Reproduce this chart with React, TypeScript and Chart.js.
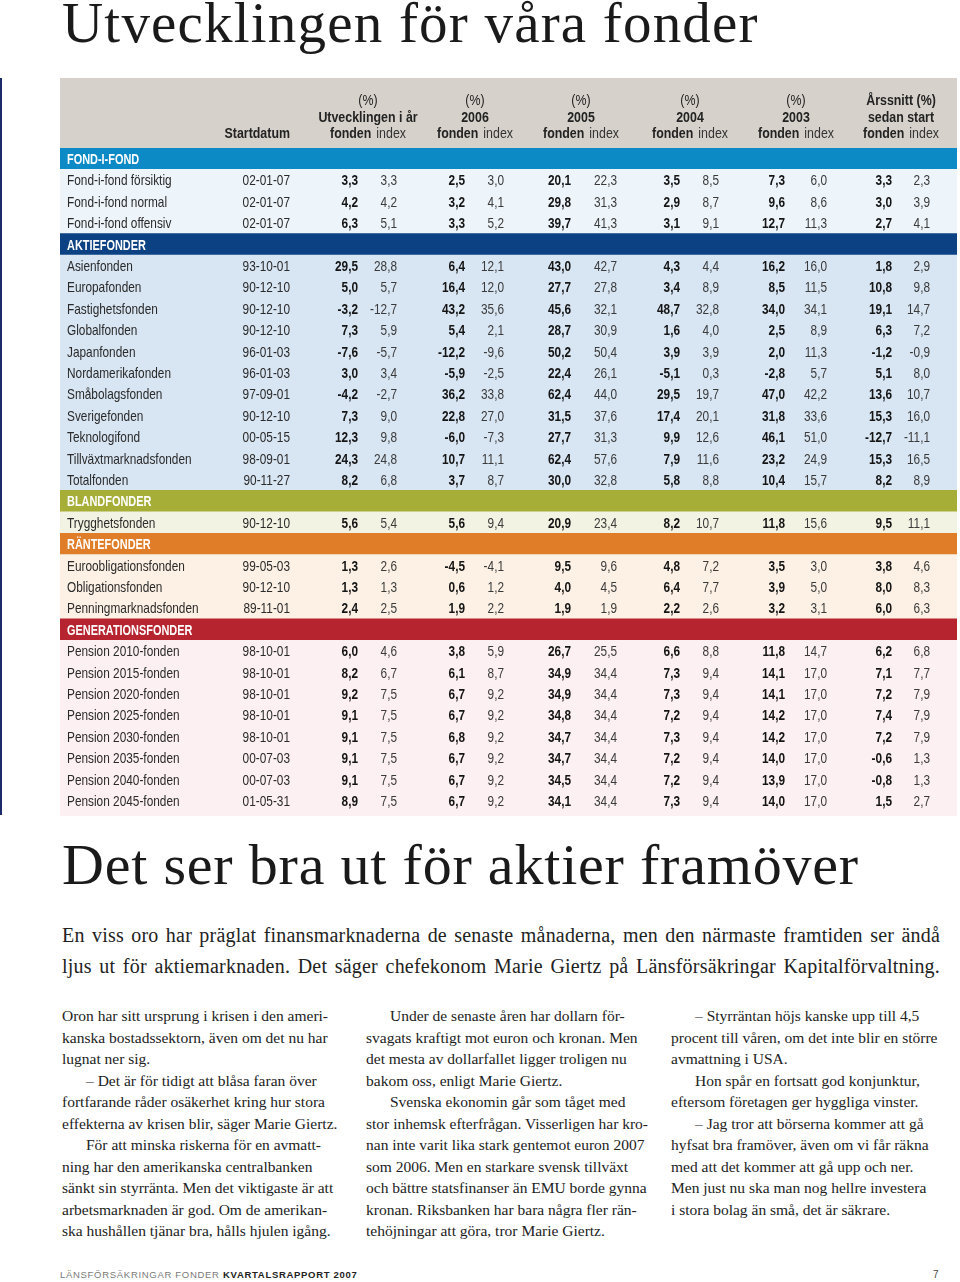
import React, { useEffect, useRef } from 'react';
import { Chart, registerables } from 'chart.js';

Chart.register(...registerables);

// ---------- DATA ----------
const sectionNames = ['FOND-I-FOND', 'AKTIEFONDER', 'BLANDFONDER', 'RÄNTEFONDER', 'GENERATIONSFONDER'];

const fundNames = [
  'Fond-i-fond försiktig', 'Fond-i-fond normal', 'Fond-i-fond offensiv',
  'Asienfonden', 'Europafonden', 'Fastighetsfonden', 'Globalfonden', 'Japanfonden',
  'Nordamerikafonden', 'Småbolagsfonden', 'Sverigefonden', 'Teknologifond',
  'Tillväxtmarknadsfonden', 'Totalfonden',
  'Trygghetsfonden',
  'Euroobligationsfonden', 'Obligationsfonden', 'Penningmarknadsfonden',
  'Pension 2010-fonden', 'Pension 2015-fonden', 'Pension 2020-fonden', 'Pension 2025-fonden',
  'Pension 2030-fonden', 'Pension 2035-fonden', 'Pension 2040-fonden', 'Pension 2045-fonden',
];

const fundSection = [0, 0, 0, 1, 1, 1, 1, 1, 1, 1, 1, 1, 1, 1, 2, 3, 3, 3, 4, 4, 4, 4, 4, 4, 4, 4];

const startDates = [
  '02-01-07', '02-01-07', '02-01-07',
  '93-10-01', '90-12-10', '90-12-10', '90-12-10', '96-01-03', '96-01-03', '97-09-01',
  '90-12-10', '00-05-15', '98-09-01', '90-11-27',
  '90-12-10',
  '99-05-03', '90-12-10', '89-11-01',
  '98-10-01', '98-10-01', '98-10-01', '98-10-01', '98-10-01', '00-07-03', '00-07-03', '01-05-31',
];

const ytdFund = [3.3, 4.2, 6.3, 29.5, 5.0, -3.2, 7.3, -7.6, 3.0, -4.2, 7.3, 12.3, 24.3, 8.2, 5.6, 1.3, 1.3, 2.4, 6.0, 8.2, 9.2, 9.1, 9.1, 9.1, 9.1, 8.9];
const ytdIndex = [3.3, 4.2, 5.1, 28.8, 5.7, -12.7, 5.9, -5.7, 3.4, -2.7, 9.0, 9.8, 24.8, 6.8, 5.4, 2.6, 1.3, 2.5, 4.6, 6.7, 7.5, 7.5, 7.5, 7.5, 7.5, 7.5];
const fund2006 = [2.5, 3.2, 3.3, 6.4, 16.4, 43.2, 5.4, -12.2, -5.9, 36.2, 22.8, -6.0, 10.7, 3.7, 5.6, -4.5, 0.6, 1.9, 3.8, 6.1, 6.7, 6.7, 6.8, 6.7, 6.7, 6.7];
const index2006 = [3.0, 4.1, 5.2, 12.1, 12.0, 35.6, 2.1, -9.6, -2.5, 33.8, 27.0, -7.3, 11.1, 8.7, 9.4, -4.1, 1.2, 2.2, 5.9, 8.7, 9.2, 9.2, 9.2, 9.2, 9.2, 9.2];
const fund2005 = [20.1, 29.8, 39.7, 43.0, 27.7, 45.6, 28.7, 50.2, 22.4, 62.4, 31.5, 27.7, 62.4, 30.0, 20.9, 9.5, 4.0, 1.9, 26.7, 34.9, 34.9, 34.8, 34.7, 34.7, 34.5, 34.1];
const index2005 = [22.3, 31.3, 41.3, 42.7, 27.8, 32.1, 30.9, 50.4, 26.1, 44.0, 37.6, 31.3, 57.6, 32.8, 23.4, 9.6, 4.5, 1.9, 25.5, 34.4, 34.4, 34.4, 34.4, 34.4, 34.4, 34.4];
const fund2004 = [3.5, 2.9, 3.1, 4.3, 3.4, 48.7, 1.6, 3.9, -5.1, 29.5, 17.4, 9.9, 7.9, 5.8, 8.2, 4.8, 6.4, 2.2, 6.6, 7.3, 7.3, 7.2, 7.3, 7.2, 7.2, 7.3];
const index2004 = [8.5, 8.7, 9.1, 4.4, 8.9, 32.8, 4.0, 3.9, 0.3, 19.7, 20.1, 12.6, 11.6, 8.8, 10.7, 7.2, 7.7, 2.6, 8.8, 9.4, 9.4, 9.4, 9.4, 9.4, 9.4, 9.4];
const fund2003 = [7.3, 9.6, 12.7, 16.2, 8.5, 34.0, 2.5, 2.0, -2.8, 47.0, 31.8, 46.1, 23.2, 10.4, 11.8, 3.5, 3.9, 3.2, 11.8, 14.1, 14.1, 14.2, 14.2, 14.0, 13.9, 14.0];
const index2003 = [6.0, 8.6, 11.3, 16.0, 11.5, 34.1, 8.9, 11.3, 5.7, 42.2, 33.6, 51.0, 24.9, 15.7, 15.6, 3.0, 5.0, 3.1, 14.7, 17.0, 17.0, 17.0, 17.0, 17.0, 17.0, 17.0];
const avgFund = [3.3, 3.0, 2.7, 1.8, 10.8, 19.1, 6.3, -1.2, 5.1, 13.6, 15.3, -12.7, 15.3, 8.2, 9.5, 3.8, 8.0, 6.0, 6.2, 7.1, 7.2, 7.4, 7.2, -0.6, -0.8, 1.5];
const avgIndex = [2.3, 3.9, 4.1, 2.9, 9.8, 14.7, 7.2, -0.9, 8.0, 10.7, 16.0, -11.1, 16.5, 8.9, 11.1, 4.6, 8.3, 6.3, 6.8, 7.7, 7.9, 7.9, 7.9, 1.3, 1.3, 2.7];

const headerLine1 = ['(%)', '(%)', '(%)', '(%)', '(%)', 'Årssnitt (%)'];
const headerLine2 = ['Utvecklingen i år', '2006', '2005', '2004', '2003', 'sedan start'];
const headerFund = 'fonden';
const headerIndex = 'index';
const headerStart = 'Startdatum';

const fundSeries = [ytdFund, fund2006, fund2005, fund2004, fund2003, avgFund];
const indexSeries = [ytdIndex, index2006, index2005, index2004, index2003, avgIndex];

// ---------- STYLE / LAYOUT ----------
const TABLE_W = 897;
const TABLE_H = 738;
const HEADER_H = 70;
const BOTTOM_PAD = 4.5;
const HEADER_BG = '#d6d2cb';
const sectionBandColors = ['#0b8ac6', '#0c4283', '#a7ae38', '#e07d28', '#b6252f'];
const sectionRowColors = ['#edf4fa', '#d8e5f2', '#f3f3e3', '#fdf1e5', '#fcf0f3'];

const NAME_X = 7;
const DATE_R = 230;
const fundRight = [298, 405, 511, 620, 725, 832];
const indexRight = [337, 444, 557, 659, 767, 870];
const headerCenter = [308, 415, 521, 630, 736, 841];
const SX = 0.8;
const FONT = '"Liberation Sans", Arial, sans-serif';

type Row = { kind: 'section' | 'fund'; section: number; fund: number; label: string };
const rows: Row[] = [];
sectionNames.forEach((s, si) => {
  rows.push({ kind: 'section', section: si, fund: -1, label: s });
  fundNames.forEach((f, fi) => {
    if (fundSection[fi] === si) rows.push({ kind: 'fund', section: si, fund: fi, label: f });
  });
});

const fmt = (v: number) => v.toFixed(1).replace('.', ',');

function txt(ctx: CanvasRenderingContext2D, s: string, x: number, y: number, align: CanvasTextAlign, font: string, color: string, sx = SX) {
  ctx.save();
  ctx.font = font;
  ctx.fillStyle = color;
  ctx.textAlign = align;
  ctx.textBaseline = 'alphabetic';
  ctx.translate(x, y);
  ctx.scale(sx, 1);
  ctx.fillText(s, 0, 0);
  ctx.restore();
}

const tablePlugin = {
  id: 'fundTable',
  beforeDatasetsDraw(chart: any) {
    const { ctx, chartArea, scales } = chart;
    const x0 = scales.x.getPixelForValue(0);
    const x1 = scales.x.getPixelForValue(TABLE_W);
    ctx.save();
    ctx.fillStyle = HEADER_BG;
    ctx.fillRect(x0, 0, x1 - x0, chartArea.top);
    ctx.fillStyle = sectionRowColors[rows[rows.length - 1].section];
    ctx.fillRect(x0, chartArea.bottom - 1, x1 - x0, chart.height - chartArea.bottom + 1);
    ctx.restore();
  },
  afterDatasetsDraw(chart: any) {
    const { ctx, chartArea, scales } = chart;
    const xs = scales.x;
    const ys = scales.y;
    const top = chartArea.top;
    const hb1 = top - 43;
    const hb2 = top - 26.5;
    const hb3 = top - 10;
    const hBold = `bold 15.5px ${FONT}`;
    const hReg = `15.5px ${FONT}`;
    const hColor = '#232323';
    txt(ctx, headerStart, xs.getPixelForValue(DATE_R), hb3, 'right', hBold, hColor);
    for (let c = 0; c < 6; c++) {
      const cx = xs.getPixelForValue(headerCenter[c]);
      txt(ctx, headerLine1[c], cx, hb1, 'center', c === 5 ? hBold : hReg, hColor);
      txt(ctx, headerLine2[c], cx, hb2, 'center', hBold, hColor);
      ctx.save();
      ctx.font = hBold;
      const wF = ctx.measureText(headerFund).width * SX;
      ctx.font = hReg;
      const wI = ctx.measureText(headerIndex).width * SX;
      ctx.restore();
      const gap = 5;
      const start = cx - (wF + gap + wI) / 2;
      txt(ctx, headerFund, start, hb3, 'left', hBold, hColor);
      txt(ctx, headerIndex, start + wF + gap, hb3, 'left', hReg, '#333');
    }
    const rBold = `bold 14.8px ${FONT}`;
    const rReg = `14.8px ${FONT}`;
    rows.forEach((r, i) => {
      const yc = ys.getPixelForValue(i);
      const yb = yc + 5.2;
      if (r.kind === 'section') {
        txt(ctx, r.label, xs.getPixelForValue(NAME_X), yb, 'left', `bold 14px ${FONT}`, '#ffffff', 0.78);
        return;
      }
      const f = r.fund;
      txt(ctx, r.label, xs.getPixelForValue(NAME_X), yb, 'left', rReg, '#2a2a2a');
      txt(ctx, startDates[f], xs.getPixelForValue(DATE_R), yb, 'right', rReg, '#2a2a2a');
      for (let c = 0; c < 6; c++) {
        txt(ctx, fmt(fundSeries[c][f]), xs.getPixelForValue(fundRight[c]), yb, 'right', rBold, '#151515');
        txt(ctx, fmt(indexSeries[c][f]), xs.getPixelForValue(indexRight[c]), yb, 'right', rReg, '#3a3a3a');
      }
    });
  },
};

function FundTable() {
  const ref = useRef<HTMLCanvasElement | null>(null);
  useEffect(() => {
    if (!ref.current) return;
    const chart = new Chart(ref.current, {
      type: 'bar',
      data: {
        labels: rows.map((r) => r.label),
        datasets: [
          {
            data: rows.map(() => [0, TABLE_W]) as any,
            backgroundColor: rows.map((r) => (r.kind === 'section' ? sectionBandColors[r.section] : sectionRowColors[r.section])),
            borderWidth: 0,
            barPercentage: 1,
            categoryPercentage: 1,
          },
        ],
      },
      options: {
        indexAxis: 'y',
        responsive: false,
        maintainAspectRatio: false,
        animation: false,
        events: [],
        layout: { padding: { top: HEADER_H, bottom: BOTTOM_PAD, left: 0, right: 0 } },
        plugins: { legend: { display: false }, tooltip: { enabled: false } },
        scales: {
          x: { type: 'linear', min: 0, max: TABLE_W, display: false },
          y: { type: 'category', display: false, offset: true },
        },
      },
      plugins: [tablePlugin as any],
    });
    return () => chart.destroy();
  }, []);
  return (
    <canvas
      ref={ref}
      width={TABLE_W}
      height={TABLE_H}
      style={{ position: 'absolute', left: 60, top: 78, width: TABLE_W, height: TABLE_H }}
    />
  );
}

const col1 = [
  { t: 'Oron har sitt ursprung i krisen i den ameri-', i: false },
  { t: 'kanska bostadssektorn, även om det nu har', i: false },
  { t: 'lugnat ner sig.', i: false },
  { t: '– Det är för tidigt att blåsa faran över', i: true },
  { t: 'fortfarande råder osäkerhet kring hur stora', i: false },
  { t: 'effekterna av krisen blir, säger Marie Giertz.', i: false },
  { t: 'För att minska riskerna för en avmatt-', i: true },
  { t: 'ning har den amerikanska centralbanken', i: false },
  { t: 'sänkt sin styrränta. Men det viktigaste är att', i: false },
  { t: 'arbetsmarknaden är god. Om de amerikan-', i: false },
  { t: 'ska hushållen tjänar bra, hålls hjulen igång.', i: false },
];
const col2 = [
  { t: 'Under de senaste åren har dollarn för-', i: true },
  { t: 'svagats kraftigt mot euron och kronan. Men', i: false },
  { t: 'det mesta av dollarfallet ligger troligen nu', i: false },
  { t: 'bakom oss, enligt Marie Giertz.', i: false },
  { t: 'Svenska ekonomin går som tåget med', i: true },
  { t: 'stor inhemsk efterfrågan. Visserligen har kro-', i: false },
  { t: 'nan inte varit lika stark gentemot euron 2007', i: false },
  { t: 'som 2006. Men en starkare svensk tillväxt', i: false },
  { t: 'och bättre statsfinanser än EMU borde gynna', i: false },
  { t: 'kronan. Riksbanken har bara några fler rän-', i: false },
  { t: 'tehöjningar att göra, tror Marie Giertz.', i: false },
];
const col3 = [
  { t: '– Styrräntan höjs kanske upp till 4,5', i: true },
  { t: 'procent till våren, om det inte blir en större', i: false },
  { t: 'avmattning i USA.', i: false },
  { t: 'Hon spår en fortsatt god konjunktur,', i: true },
  { t: 'eftersom företagen ger hyggliga vinster.', i: false },
  { t: '– Jag tror att börserna kommer att gå', i: true },
  { t: 'hyfsat bra framöver, även om vi får räkna', i: false },
  { t: 'med att det kommer att gå upp och ner.', i: false },
  { t: 'Men just nu ska man nog hellre investera', i: false },
  { t: 'i stora bolag än små, det är säkrare.', i: false },
];

const introLines = [
  'En viss oro har präglat finansmarknaderna de senaste månaderna, men den närmaste framtiden ser ändå',
  'ljus ut för aktiemarknaden. Det säger chefekonom Marie Giertz på Länsförsäkringar Kapitalförvaltning.',
];

const SERIF = '"Liberation Serif", "Times New Roman", serif';

function Column({ lines, left }: { lines: { t: string; i: boolean }[]; left: number }) {
  return (
    <div style={{ position: 'absolute', left, top: 1005, width: 290, fontFamily: SERIF, fontSize: 15.5, lineHeight: '21.5px', color: '#222' }}>
      {lines.map((l, k) => (
        <div key={k} style={{ paddingLeft: l.i ? 24 : 0, whiteSpace: 'nowrap' }}>{l.t}</div>
      ))}
    </div>
  );
}

export default function App() {
  return (
    <div style={{ position: 'absolute', left: 0, top: 0, width: 960, height: 1282, background: '#fff', overflow: 'hidden' }}>
      <div style={{ position: 'absolute', left: 62, top: -6, fontFamily: SERIF, fontSize: 57, lineHeight: '57px', letterSpacing: 1.2, color: '#1a1a1a', whiteSpace: 'nowrap' }}>
        Utvecklingen för våra fonder
      </div>
      <div style={{ position: 'absolute', left: 0, top: 78, width: 2, height: 737, background: '#1d2a6a' }} />
      <FundTable />
      <div style={{ position: 'absolute', left: 62, top: 836, fontFamily: SERIF, fontSize: 58, lineHeight: '58px', letterSpacing: 0.8, color: '#1a1a1a', whiteSpace: 'nowrap' }}>
        Det ser bra ut för aktier framöver
      </div>
      {introLines.map((line, k) => (
        <div
          key={k}
          style={{
            position: 'absolute', left: 62, top: 919.5 + k * 31, width: 878, height: 31, overflow: 'visible',
            fontFamily: SERIF, fontSize: 20, lineHeight: '31px', letterSpacing: 0.2, color: '#222',
            textAlign: 'justify', textAlignLast: 'justify',
          } as any}
        >
          {line}
        </div>
      ))}
      <Column lines={col1} left={62} />
      <Column lines={col2} left={366} />
      <Column lines={col3} left={671} />
      <div style={{ position: 'absolute', left: 60, top: 1269, fontFamily: '"Liberation Sans", Arial, sans-serif', fontSize: 9.5, lineHeight: '12px', letterSpacing: 0.7, whiteSpace: 'nowrap' }}>
        <span style={{ color: '#7a7a7a' }}>LÄNSFÖRSÄKRINGAR FONDER </span>
        <span style={{ color: '#222', fontWeight: 'bold' }}>KVARTALSRAPPORT 2007</span>
      </div>
      <div style={{ position: 'absolute', left: 933, top: 1269, fontFamily: '"Liberation Sans", Arial, sans-serif', fontSize: 10, lineHeight: '12px', color: '#444' }}>
        7
      </div>
    </div>
  );
}
